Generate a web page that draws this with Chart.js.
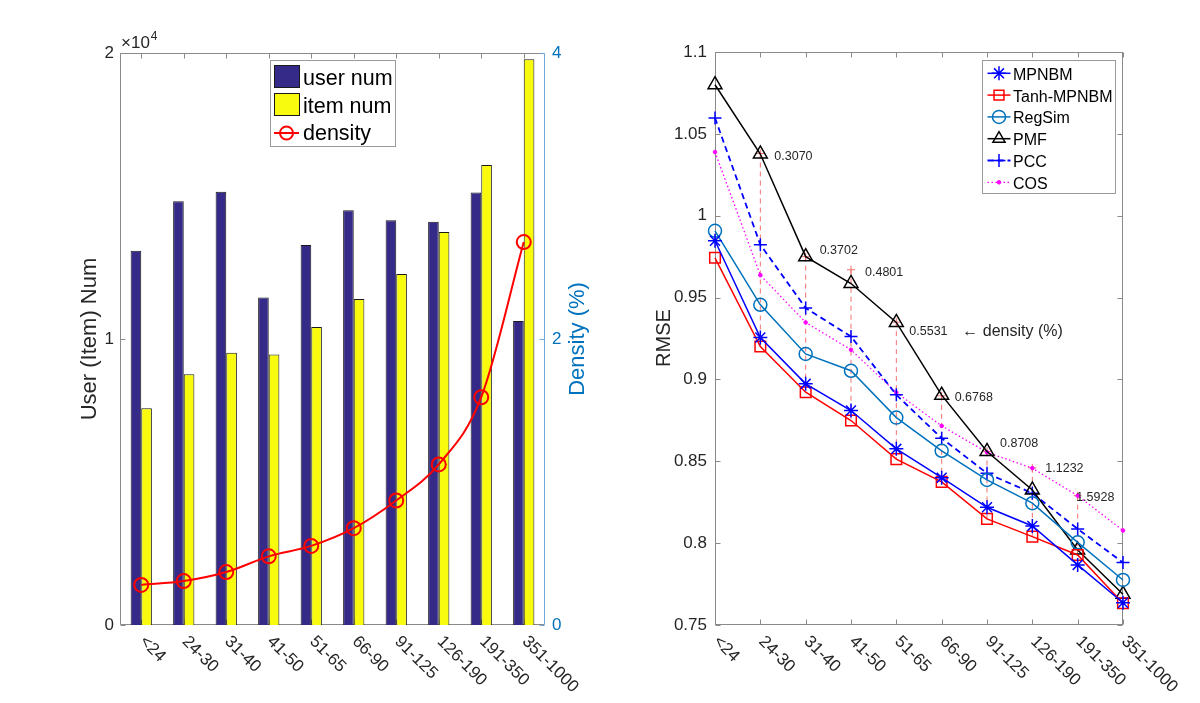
<!DOCTYPE html>
<html><head><meta charset="utf-8">
<script src="https://cdn.jsdelivr.net/npm/chart.js@4.4.1/dist/chart.umd.min.js"></script>
<style>
html,body{margin:0;padding:0;background:#fff;}
#wrap{position:relative;width:1200px;height:703px;overflow:hidden;}
.box{position:absolute;top:0;width:600px;height:703px;}
</style></head><body>
<div id="wrap">
<div class="box" style="left:0"><canvas id="c1" width="600" height="703"></canvas></div>
<div class="box" style="left:600px"><canvas id="c2" width="600" height="703"></canvas></div>
</div>
<script>
// ---------- data ----------
const categories = ['<24','24-30','31-40','41-50','51-65','66-90','91-125','126-190','191-350','351-1000'];
const userNum = [13090, 14820, 15150, 11450, 13290, 14500, 14150, 14100, 15120, 10630];
const itemNum = [7580, 8770, 9520, 9460, 10420, 11400, 12270, 13740, 16080, 19780];
const density = [0.2800, 0.3070, 0.3702, 0.4801, 0.5531, 0.6768, 0.8708, 1.1232, 1.5928, 2.6780];

const rmseMPNBM  = [0.9847, 0.9256, 0.8973, 0.8810, 0.8576, 0.8400, 0.8219, 0.8105, 0.7867, 0.7636];
const rmseTanh   = [0.9743, 0.9201, 0.8922, 0.8749, 0.8513, 0.8374, 0.8148, 0.8040, 0.7928, 0.7633];
const rmseRegSim = [0.9908, 0.9456, 0.9156, 0.9053, 0.8767, 0.8564, 0.8386, 0.8244, 0.8005, 0.7775];
const rmsePMF    = [1.0800, 1.0377, 0.9750, 0.9586, 0.9348, 0.8904, 0.8560, 0.8325, 0.7958, 0.7688];
const rmsePCC    = [1.0597, 0.9823, 0.9436, 0.9262, 0.8906, 0.8641, 0.8427, 0.8305, 0.8087, 0.7881];
const rmseCOS    = [1.0389, 0.9637, 0.9348, 0.9181, 0.8920, 0.8716, 0.8555, 0.8458, 0.8290, 0.8077];
const stemTop    = [null, 1.038, 0.975, 0.967, 0.935, 0.890, 0.856, 0.846, 0.829, null];

// ---------- common ----------
const FONT = "'Liberation Sans', Arial, Helvetica, sans-serif";
Chart.defaults.font.family = FONT;
Chart.defaults.color = '#262626';
Chart.defaults.animation = false;
Chart.defaults.plugins.legend.display = false;
Chart.defaults.plugins.tooltip.enabled = false;
const TXT = '#262626', FRAME = '#8a8a8a', MBLUE = '#0072BD';

function seg(ctx,x1,y1,x2,y2){ctx.beginPath();ctx.moveTo(x1,y1);ctx.lineTo(x2,y2);ctx.stroke();}
function px(v){return Math.round(v)+0.5;}
function xLabels(chart){
  const ctx=chart.ctx, xs=chart.scales.x, B=chart.chartArea.bottom;
  ctx.save(); ctx.fillStyle=TXT; ctx.font='17px '+FONT; ctx.textAlign='left'; ctx.textBaseline='middle';
  categories.forEach((c,i)=>{ctx.save();ctx.translate(xs.getPixelForValue(i)+1,B+14);ctx.rotate(Math.PI/4);ctx.fillText(c,0,0);ctx.restore();});
  ctx.restore();
}
function vTitle(ctx,text,x,y,size,color){
  ctx.save(); ctx.translate(x,y); ctx.rotate(-Math.PI/2); ctx.font=size+'px '+FONT; ctx.fillStyle=color;
  ctx.textAlign='center'; ctx.textBaseline='middle'; ctx.fillText(text,0,0); ctx.restore();
}
function marker(ctx,style,r,x,y,stroke,fill,lw){
  ctx.save(); ctx.strokeStyle=stroke; ctx.fillStyle=fill; ctx.lineWidth=lw; ctx.setLineDash([]);
  Chart.helpers.drawPoint(ctx,{pointStyle:style,radius:r,rotation:0,borderWidth:lw},x,y);
  ctx.restore();
}

// ---------- left chart ----------
const leftDecor = {
  id:'leftDecor',
  beforeDatasetsDraw(chart){
    const {ctx, chartArea:{left:L,right:R,top:T,bottom:B}} = chart;
    const y=chart.scales.y, y1=chart.scales.y1, x=chart.scales.x;
    const l=px(L), r=Math.round(R)-0.5, t=px(T), b=Math.round(B)-0.5;
    ctx.save(); ctx.lineWidth=1; ctx.strokeStyle=FRAME;
    seg(ctx,l,t,r,t); seg(ctx,l,t,l,b); seg(ctx,l,b,r,b);
    y.ticks.forEach(tk=>{const p=px(y.getPixelForValue(tk.value)); seg(ctx,l,p,l+5,p);});
    categories.forEach((c,i)=>{const p=px(x.getPixelForValue(i)); seg(ctx,p,t,p,t+5); seg(ctx,p,b,p,b-5);});
    ctx.strokeStyle='#6fa8d6'; seg(ctx,r,t,r,b);
    y1.ticks.forEach(tk=>{const p=px(y1.getPixelForValue(tk.value)); seg(ctx,r-5,p,r,p);});
    ctx.restore();
  },
  afterDraw(chart){
    const ctx=chart.ctx;
    xLabels(chart);
    vTitle(ctx,'User (Item) Num',90,339,22,TXT);
    vTitle(ctx,'Density (%)',578,339,22,MBLUE);
    // exponent
    ctx.save(); ctx.fillStyle=TXT; ctx.textBaseline='alphabetic'; ctx.textAlign='left';
    ctx.font='17px '+FONT; ctx.fillText('\u00d710',121,48);
    const w=ctx.measureText('\u00d710').width;
    ctx.font='12px '+FONT; ctx.fillText('4',121+w+1,40);
    ctx.restore();
    // legend
    ctx.save();
    ctx.fillStyle='#fff'; ctx.fillRect(270.5,60.5,125,86);
    ctx.strokeStyle='#9a9a9a'; ctx.lineWidth=1; ctx.strokeRect(270.5,60.5,125,86);
    const ds=chart.data.datasets;
    ctx.strokeStyle='#1a1a1a';
    ctx.fillStyle=ds[0].backgroundColor; ctx.fillRect(274.5,65.5,25,22); ctx.strokeRect(274.5,65.5,25,22);
    ctx.fillStyle=ds[1].backgroundColor; ctx.fillRect(274.5,93.5,25,22); ctx.strokeRect(274.5,93.5,25,22);
    ctx.strokeStyle=ds[2].borderColor; ctx.lineWidth=2; seg(ctx,274,133,299,133);
    marker(ctx,'circle',6.5,286.5,133,ds[2].borderColor,'rgba(0,0,0,0)',2);
    ctx.fillStyle='#000'; ctx.font='21.5px '+FONT; ctx.textAlign='left'; ctx.textBaseline='alphabetic';
    ctx.fillText(ds[0].label,303,85); ctx.fillText(ds[1].label,303,112.5); ctx.fillText(ds[2].label,303,140);
    ctx.restore();
  }
};

new Chart(document.getElementById('c1'), {
  type:'bar',
  data:{
    labels:categories,
    datasets:[
      {label:'user num', data:userNum, backgroundColor:'#352a87', borderColor:'#1a1a1a', borderWidth:1, yAxisID:'y', order:2,
       categoryPercentage:0.5, barPercentage:1.0},
      {label:'item num', data:itemNum, backgroundColor:'#f9fb0e', borderColor:'#1a1a1a', borderWidth:1, yAxisID:'y', order:2,
       categoryPercentage:0.5, barPercentage:1.0},
      {type:'line', label:'density', data:density, yAxisID:'y1', order:0, borderColor:'#ff0000', borderWidth:2,
       cubicInterpolationMode:'monotone', pointStyle:'circle', pointRadius:7, pointBorderWidth:2,
       pointBorderColor:'#ff0000', pointBackgroundColor:'rgba(0,0,0,0)', clip:false}
    ]
  },
  options:{
    responsive:false,
    layout:{padding:{left:0,right:0,top:53,bottom:0}},
    scales:{
      x:{offset:true, grid:{display:false,drawTicks:false}, border:{display:false}, ticks:{display:false},
         afterFit(s){s.height=78;}},
      y:{position:'left', min:0, max:20000, grid:{display:false,drawTicks:false}, border:{display:false},
         ticks:{stepSize:10000, padding:6, color:TXT, font:{size:17}, callback:v=>v/10000},
         afterFit(s){s.width=120;}},
      y1:{position:'right', min:0, max:4, grid:{display:false,drawTicks:false}, border:{display:false},
         ticks:{stepSize:2, padding:7, color:MBLUE, font:{size:17}},
         afterFit(s){s.width=55;}}
    }
  },
  plugins:[leftDecor]
});

// ---------- right chart ----------
const stemData=[];
stemTop.forEach((v,i)=>{ if(v!=null){ stemData.push({x:categories[i],y:v,top:true}); stemData.push({x:categories[i],y:rmseTanh[i]}); stemData.push({x:categories[i],y:null}); } });

const labelOffsets = {dx:[0,14,14,14,13,13,13,13,-1.5,0], dy:[0,3,-6,3,9,2,-7.5,1,2,0]};

const rightDecor = {
  id:'rightDecor',
  beforeDatasetsDraw(chart){
    const {ctx, chartArea:{left:L,right:R,top:T,bottom:B}} = chart;
    const y=chart.scales.y, x=chart.scales.x;
    const l=px(L), r=Math.round(R)-0.5, t=px(T), b=Math.round(B)-0.5;
    ctx.save(); ctx.lineWidth=1; ctx.strokeStyle=FRAME;
    ctx.strokeRect(l,t,r-l,b-t);
    y.ticks.forEach(tk=>{const p=px(y.getPixelForValue(tk.value)); seg(ctx,l,p,l+5,p); seg(ctx,r-5,p,r,p);});
    categories.forEach((c,i)=>{const p=px(x.getPixelForValue(i)); seg(ctx,p,t,p,t+5); seg(ctx,p,b,p,b-5);});
    ctx.restore();
  },
  afterDraw(chart){
    const ctx=chart.ctx, x=chart.scales.x, y=chart.scales.y;
    xLabels(chart);
    vTitle(ctx,'RMSE',64,338,20,TXT);
    // density annotations
    ctx.save(); ctx.fillStyle=TXT; ctx.font='12.5px '+FONT; ctx.textAlign='left'; ctx.textBaseline='middle';
    stemTop.forEach((v,i)=>{ if(v==null) return;
      ctx.fillText(density[i].toFixed(4), x.getPixelForValue(i)+labelOffsets.dx[i], y.getPixelForValue(v)+labelOffsets.dy[i]);
    });
    ctx.font='16px '+FONT;
    ctx.fillText('\u2190 density (%)', x.getPixelForValue(4)+66, y.getPixelForValue(stemTop[4])+labelOffsets.dy[4]);
    ctx.restore();
    // legend
    const ds=chart.data.datasets.slice(0,6);
    ctx.save();
    ctx.fillStyle='#fff'; ctx.fillRect(382.5,60.5,133,133);
    ctx.strokeStyle='#9a9a9a'; ctx.lineWidth=1; ctx.strokeRect(382.5,60.5,133,133);
    ds.forEach((d,k)=>{
      const cy=73.3+k*21.8;
      ctx.save(); ctx.strokeStyle=d.borderColor; ctx.lineWidth=d.borderWidth; ctx.setLineDash(d.borderDash||[]);
      seg(ctx,387.5,cy,410.5,cy); ctx.restore();
      const r = d.pointStyle==='circle' && d.pointRadius<3 ? 1.8 : Math.min(d.pointRadius,7);
      marker(ctx,d.pointStyle,r,399,cy,d.pointBorderColor||d.borderColor,d.pointBackgroundColor,d.pointBorderWidth);
      ctx.fillStyle='#000'; ctx.font='16px '+FONT; ctx.textAlign='left'; ctx.textBaseline='alphabetic';
      ctx.fillText(d.label,413,cy+6.5);
    });
    ctx.restore();
  }
};

function series(label,data,color,style,radius,extra){
  return Object.assign({label,data,borderColor:color,borderWidth:1.5,pointStyle:style,pointRadius:radius,
    pointBorderColor:color,pointBackgroundColor:'rgba(0,0,0,0)',pointBorderWidth:1.5,tension:0,clip:false,order:1},extra||{});
}

new Chart(document.getElementById('c2'), {
  type:'line',
  data:{
    labels:categories,
    datasets:[
      series('MPNBM',rmseMPNBM,'#0000ff','star',7),
      series('Tanh-MPNBM',rmseTanh,'#ff0000','rect',7.5),
      series('RegSim',rmseRegSim,'#0072BD','circle',6.5),
      series('PMF',rmsePMF,'#000000','triangle',8),
      series('PCC',rmsePCC,'#0000ff','cross',6.5,{borderDash:[6,4],borderWidth:1.8}),
      series('COS',rmseCOS,'#ff00ff','circle',1.8,{borderDash:[1.5,2.5],borderWidth:1.3,pointBackgroundColor:'#ff00ff',pointBorderWidth:1}),
      {label:'stems', data:stemData, borderColor:'#f27070', borderWidth:1, borderDash:[5,4], spanGaps:false,
       pointStyle:'cross', pointBorderColor:'#f27070', pointBorderWidth:1,
       pointRadius:c=>(c.raw&&c.raw.top)?4:0, clip:false, order:10}
    ]
  },
  options:{
    responsive:false,
    layout:{padding:{left:0,right:77,top:52,bottom:0}},
    scales:{
      x:{type:'category', offset:false, grid:{display:false,drawTicks:false}, border:{display:false}, ticks:{display:false},
         afterFit(s){s.height=78;}},
      y:{min:0.75, max:1.1, grid:{display:false,drawTicks:false}, border:{display:false},
         ticks:{stepSize:0.05, padding:8, color:TXT, font:{size:17}, callback:v=>String(+(+v).toFixed(2))},
         afterFit(s){s.width=115;}}
    }
  },
  plugins:[rightDecor]
});
</script>
</body></html>
